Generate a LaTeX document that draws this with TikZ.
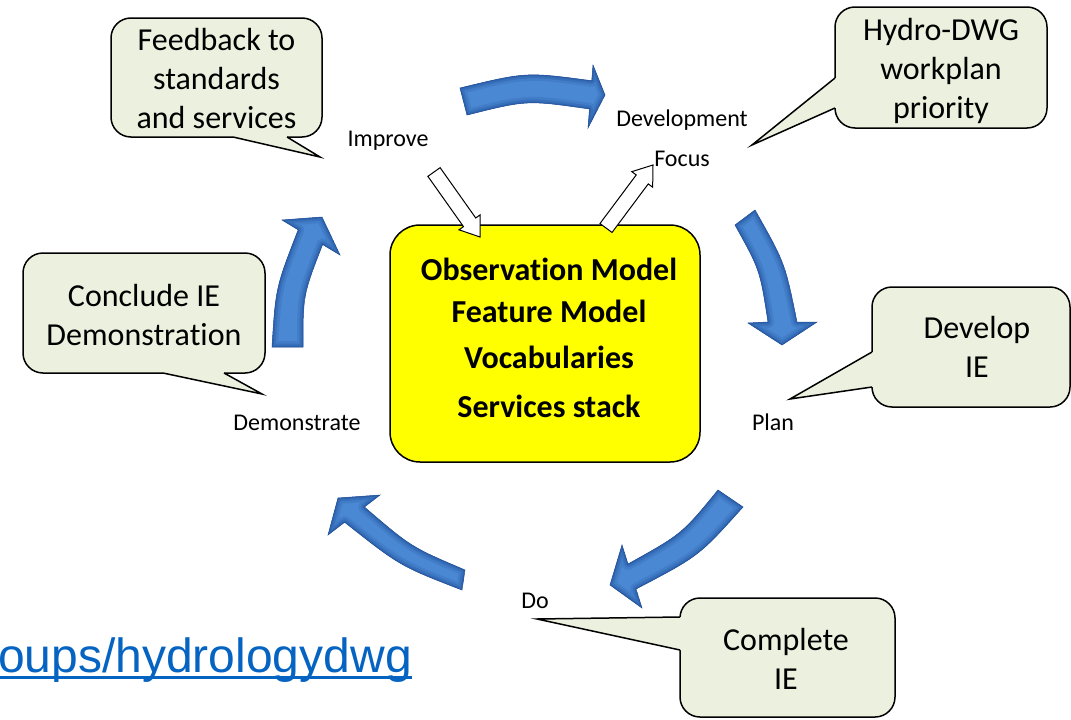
\documentclass[tikz,border=0pt]{standalone}
\usepackage{fontspec}
\setmainfont{Carlito}[Ligatures=NoCommon]
\newfontfamily\linkfont{Liberation Sans}
\usetikzlibrary{calc}
\definecolor{calloutfill}{RGB}{235,241,222}
\definecolor{arrowblue}{RGB}{74,136,212}
\definecolor{arrowdark}{RGB}{30,76,150}
\definecolor{linkblue}{RGB}{5,99,193}
\definecolor{boxyellow}{RGB}{255,255,0}
\tikzset{
  calloutbox/.style={draw=black, line width=1.5pt, fill=calloutfill, rounded corners=20pt, inner sep=0pt},
  wedgefill/.style={fill=calloutfill},
  wedgeline/.style={draw=black, line width=1.5pt, line join=miter},
  callouttext/.style={font=\fontsize{32}{39}\selectfont, anchor=base, inner sep=0pt},
  steplabel/.style={font=\fontsize{24}{29}\selectfont, anchor=base, inner sep=0pt},
  coretext/.style={font=\bfseries\fontsize{32}{39}\selectfont, anchor=base, inner sep=0pt},
  whitearrow/.style={draw=black, line width=1pt, fill=white, line join=miter},
  corebox/.style={draw=black, line width=1.5pt, fill=boxyellow, rounded corners=30pt, inner sep=0pt},
}
\newcommand\blockarrow[2]{%
  \coordinate (hb) at ($(#2)!18pt!(#1)$);
  \draw[whitearrow] ($(#1)!7.5pt!90:(#2)$) -- ($(hb)!7.5pt!90:(#2)$) -- ($(hb)!13pt!90:(#2)$)
    -- (#2) -- ($(hb)!13pt!-90:(#2)$) -- ($(hb)!7.5pt!-90:(#2)$) -- ($(#1)!7.5pt!-90:(#2)$) -- cycle;}
\newcommand\bluearrow[1]{%
  \begin{scope}
    \clip #1;
    \fill[arrowblue] #1;
    \draw[arrowdark, line width=12pt, opacity=0.18, line join=round] #1;
    \draw[arrowdark, line width=7pt, opacity=0.25, line join=round] #1;
    \draw[arrowdark, line width=3pt, opacity=0.35, line join=round] #1;
  \end{scope}
  \draw[arrowdark, line width=0.5pt, line join=miter] #1;}
\begin{document}
\begin{tikzpicture}[x=1pt,y=-1pt]
\useasboundingbox (0,0) rectangle (1071,720);
\fill[white] (0,0) rectangle (1071,720);

% callout 1
\node[calloutbox, minimum width=211pt, minimum height=119pt] (c1) at (216.5,77.5) {};
\fill[wedgefill] (233,137) -- (320,157) -- (287,137) -- (287,133) -- (233,133) -- cycle;
\draw[wedgeline] (233,137) -- (320,157) -- (287,137);
% callout 2
\node[calloutbox, minimum width=212pt, minimum height=121pt] (c2) at (941,67.5) {};
\fill[wedgefill] (835,78) -- (752,145) -- (835,108) -- (839,108) -- (839,78) -- cycle;
\draw[wedgeline] (835,78) -- (752,145) -- (835,108);
% callout 3
\node[calloutbox, minimum width=242pt, minimum height=120pt] (c3) at (144,313) {};
\fill[wedgefill] (163,373) -- (262,394) -- (224,373) -- (224,369) -- (163,369) -- cycle;
\draw[wedgeline] (163,373) -- (262,394) -- (224,373);
% callout 4
\node[calloutbox, minimum width=198pt, minimum height=120pt] (c4) at (971,347) {};
\fill[wedgefill] (872,352) -- (790,399) -- (872,387) -- (876,387) -- (876,352) -- cycle;
\draw[wedgeline] (872,352) -- (790,399) -- (872,387);
% callout 5
\node[calloutbox, minimum width=215pt, minimum height=119pt] (c5) at (787.5,657.5) {};
\fill[wedgefill] (680,617) -- (537,619) -- (680,650) -- (684,650) -- (684,617) -- cycle;
\draw[wedgeline] (680,617) -- (537,619) -- (680,650);

% callout texts
\node[callouttext] (c1a) at (216.5,50) {Feedback to};
\node[callouttext] (c1b) at (216.5,89) {standards};
\node[callouttext] (c1c) at (216.5,128) {and services};
\node[callouttext] (c2a) at (941,40) {Hydro-DWG};
\node[callouttext] (c2b) at (941,79) {workplan};
\node[callouttext] (c2c) at (941,118) {priority};
\node[callouttext] (c3a) at (144,306) {Conclude IE};
\node[callouttext] (c3b) at (144,345) {Demonstration};
\node[callouttext] (c4a) at (977,338) {Develop};
\node[callouttext] (c4b) at (977,377) {IE};
\node[callouttext] (c5a) at (786,650) {Complete};
\node[callouttext] (c5b) at (786,689) {IE};

% blue curved arrows
\bluearrow{(460,88) .. controls (526,72) .. (591.75,80.75) -- (593,65) -- (605,95) -- (588,128) -- (589.5,109) .. controls (527,100) .. (467,115) -- cycle}
\bluearrow{(755,210) .. controls (785,263) .. (797,322) -- (817,322) -- (782,345) -- (748,323) -- (768,322) .. controls (760,270) .. (735,225) -- cycle}
\bluearrow{(743,507) .. controls (699,556) .. (636,589) -- (642,608) -- (610,585) -- (622,545) -- (628,564) .. controls (682,534) .. (718,490) -- cycle}
\bluearrow{(462,590) .. controls (400,566) .. (344.6,522.2) -- (328,535) -- (338,498) -- (380,495) -- (364.4,507) .. controls (411,547) .. (465,570) -- cycle}
\bluearrow{(272,347) .. controls (275.7,287.7) .. (298.2,229.8) -- (282,220) -- (322,217) -- (340,255) -- (322.6,244.5) .. controls (303,295) .. (303,347) -- cycle}

% core box
\node[corebox, minimum width=310pt, minimum height=237pt] (core) at (545,343.5) {};
\node[coretext] (t1) at (549,280) {Observation Model};
\node[coretext] (t2) at (549,322) {Feature Model};
\node[coretext] (t3) at (549,368) {Vocabularies};
\node[coretext] (t4) at (549,417) {Services stack};

% white arrows
\coordinate (inTail) at (434,172);
\coordinate (inTip) at (480,237);
\coordinate (outTail) at (606,228);
\coordinate (outTip) at (653,165);
\blockarrow{inTail}{inTip}
\blockarrow{outTail}{outTip}

% step labels
\node[steplabel] (improve) at (388,146) {Improve};
\node[steplabel] (develop) at (682,126) {Development};
\node[steplabel] (focus) at (682,166) {Focus};
\node[steplabel] (demo) at (297,430) {Demonstrate};
\node[steplabel] (plan) at (773,430) {Plan};
\node[steplabel] (do) at (535,608) {Do};

% link
\node[font=\linkfont\fontsize{48}{58}\selectfont, text=linkblue, anchor=base east, inner sep=0pt] (link) at (412,672) {oups/hydrologydwg};
\draw[linkblue, line width=3pt] ($(link.base west)+(0,5)$) -- ($(link.base east)+(0,5)$);
\end{tikzpicture}
\end{document}
